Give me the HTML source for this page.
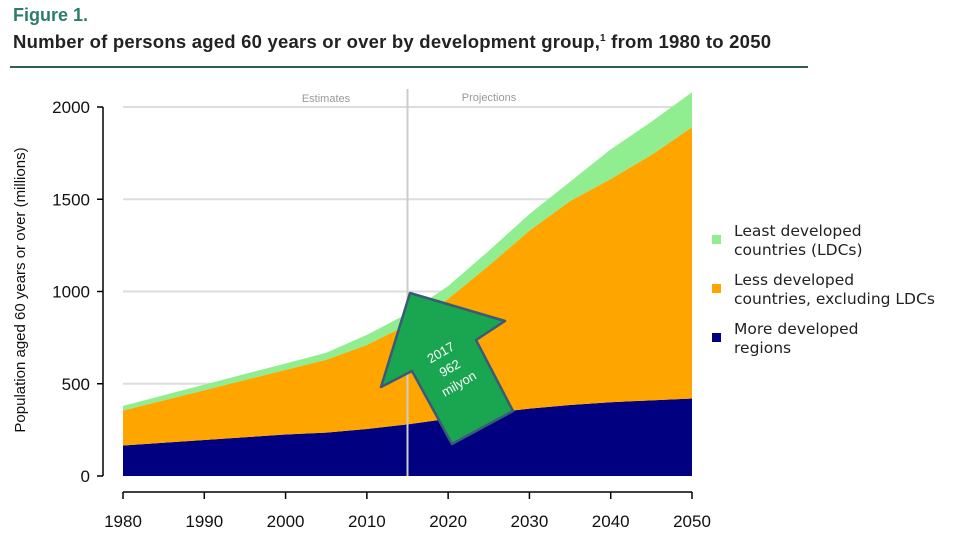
<!DOCTYPE html>
<html><head><meta charset="utf-8"><style>
body{margin:0;background:#fff;width:960px;height:540px;overflow:hidden;font-family:"Liberation Sans",sans-serif}
</style></head><body>
<svg width="960" height="540">
<text x="13" y="21" font-size="18" font-weight="bold" fill="#2e7d6a">Figure 1.</text>
<text x="13" y="48" font-size="18.5" font-weight="bold" fill="#222" textLength="758">Number of persons aged 60 years or over by development group,<tspan font-size="10" dy="-7">1</tspan><tspan dy="7"> from 1980 to 2050</tspan></text>
<rect x="10" y="66" width="798" height="2" fill="#2e5e4e"/>
<g id="plot"></g>
<g font-size="15.5" fill="#222" font-family="DejaVu Sans, sans-serif">
<rect x="712" y="235" width="9" height="9" fill="#90ee90"/>
<text x="734" y="236">Least developed<tspan x="734" dy="19">countries (LDCs)</tspan></text>
<rect x="712" y="284" width="9" height="9" fill="#ffa500"/>
<text x="734" y="285">Less developed<tspan x="734" dy="19">countries, excluding LDCs</tspan></text>
<rect x="712" y="333" width="9" height="9" fill="#000080"/>
<text x="734" y="334">More developed<tspan x="734" dy="19">regions</tspan></text>
</g>
<g>
<polygon points="410,293 505,321 476,340 513,411 452,444 412,371 381,387" fill="#1aa650" stroke="#3a5a78" stroke-width="2.5" stroke-linejoin="round"/>
<text transform="translate(452,372) rotate(-30)" fill="#fff" font-size="13" text-anchor="middle"><tspan x="0" y="-18">2017</tspan><tspan x="0" y="0">962</tspan><tspan x="0" y="18">milyon</tspan></text>
</g>
</svg>
<script>
const years=[1980,1985,1990,1995,2000,2005,2010,2015,2020,2025,2030,2035,2040,2045,2050];
const moreDeveloped=[165,180,195,210,225,235,255,280,310,340,365,385,400,410,420];
const lessDevelopedExclLDC=[190,230,270,310,350,395,455,540,650,800,965,1105,1210,1330,1470];
const leastDeveloped=[25,28,30,33,35,38,55,60,70,80,90,105,160,180,190];
const yTicks=[0,500,1000,1500,2000];
const xTicks=[1980,1990,2000,2010,2020,2030,2040,2050];
const NS="http://www.w3.org/2000/svg";
const g=document.getElementById('plot');
const X=v=>123+(v-1980)/70*569;
const Y=v=>476-v*0.1845;
function mk(t,a){const e=document.createElementNS(NS,t);for(const k in a)e.setAttribute(k,a[k]);g.appendChild(e);return e;}
yTicks.forEach(t=>{if(t>0){const l=mk('line',{x1:123,x2:692,y1:Y(t),y2:Y(t),stroke:'#ddd','stroke-width':2});

}});
const base=years.map(()=>0);
const series=[[moreDeveloped,'#000080','area-more-developed'],[lessDevelopedExclLDC,'#ffa500','area-less-developed'],[leastDeveloped,'#90ee90','area-least-developed']];
series.forEach(([vals,col,name])=>{
const lo=base.slice();const hi=base.map((b,i)=>b+vals[i]);
let d='M'+years.map((y,i)=>X(y)+','+Y(hi[i])).join('L');
for(let i=years.length-1;i>=0;i--)d+='L'+X(years[i])+','+Y(lo[i]);
const p=mk('path',{d:d+'Z',fill:col});


hi.forEach((v,i)=>base[i]=v);});
const vl=mk('line',{x1:X(2015),x2:X(2015),y1:89,y2:476,stroke:'#ccc','stroke-width':2});


const t1=mk('text',{x:326,y:102,'font-size':11,fill:'#999','text-anchor':'middle'});t1.textContent='Estimates';


const t2=mk('text',{x:489,y:101,'font-size':11,fill:'#999','text-anchor':'middle'});t2.textContent='Projections';


const ya=mk('line',{x1:103,x2:103,y1:Y(0),y2:Y(2000),stroke:'#000','stroke-width':1.5});


yTicks.forEach(t=>{mk('line',{x1:97,x2:103,y1:Y(t),y2:Y(t),stroke:'#000','stroke-width':1.5});
const tx=mk('text',{x:90,y:Y(t)+6,'font-size':17,'text-anchor':'end',fill:'#111'});tx.textContent=t;

});
const xa=mk('line',{x1:X(1980),x2:X(2050),y1:492,y2:492,stroke:'#000','stroke-width':1.5});


xTicks.forEach(t=>{mk('line',{x1:X(t),x2:X(t),y1:492,y2:499,stroke:'#000','stroke-width':1.5});
const tx=mk('text',{x:X(t),y:527,'font-size':17,'text-anchor':'middle',fill:'#111'});tx.textContent=t;

});
const yt=mk('text',{transform:'translate(25,290) rotate(-90)','font-size':15,'text-anchor':'middle',fill:'#111'});
yt.textContent='Population aged 60 years or over (millions)';


</script>
</body></html>
